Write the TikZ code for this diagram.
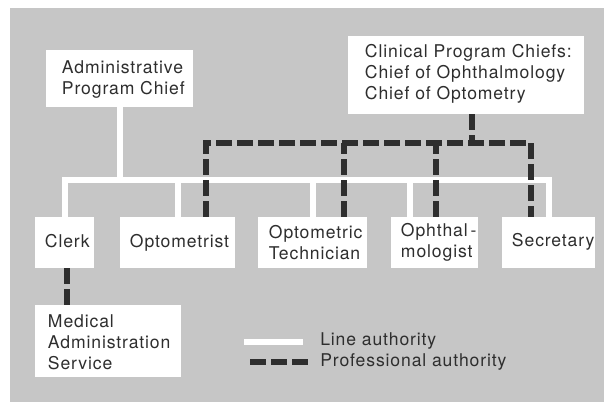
\documentclass[tikz,border=0pt]{standalone}
\usepackage{fontspec}
\setmainfont[LetterSpace=5]{TeX Gyre Heros}
\usetikzlibrary{calc}
\definecolor{bggray}{HTML}{C6C6C6}
\definecolor{ink}{HTML}{2E2E2E}
\tikzset{
  unit/.style={fill=white, inner sep=0pt},
  caption/.style={anchor=west, align=left, inner sep=0pt, text=ink,
    font=\fontsize{12.5}{15}\selectfont},
  lineauth/.style={draw=white, line width=0.15cm, line cap=rect},
  profauth/.style={draw=ink, line width=0.15cm, dash pattern=on 0.4cm off 0.125cm}
}
\begin{document}
\begin{tikzpicture}[x=0.025cm,y=-0.025cm]
    \useasboundingbox (0,0) rectangle (604,402);
    \fill[bggray] (10,8) rectangle (604,402);
    \coordinate (bus) at (0,180);
    \coordinate (dbus) at (0,143);
    \node[unit, minimum width=3.675cm, minimum height=1.425cm] (admin) at (119.5,78.5) {};
    \node[unit, minimum width=5.9cm, minimum height=1.95cm] (clinical) at (466,75) {};
    \node[unit, minimum width=1.475cm, minimum height=1.275cm] (clerk) at (64.5,242.5) {};
    \node[unit, minimum width=2.875cm, minimum height=1.275cm] (optometrist) at (177.5,242.5) {};
    \node[unit, minimum width=2.725cm, minimum height=1.275cm] (technician) at (312.5,242.5) {};
    \node[unit, minimum width=2.175cm, minimum height=1.275cm] (ophthal) at (434.5,242.5) {};
    \node[unit, minimum width=2.325cm, minimum height=1.275cm] (secretary) at (548.5,242.5) {};
    \node[unit, minimum width=3.65cm, minimum height=1.8cm] (mas) at (108,341) {};
    \node[caption] (admin-t) at ($(admin.west)+(16,1)$) {Administrative\\Program Chief};
    \node[caption] (clinical-t) at ($(clinical.west)+(17,-1)$) {Clinical Program Chiefs:\\Chief of Ophthalmology\\Chief of Optometry};
    \node[caption] (clerk-t) at ($(clerk.west)+(10,-1)$) {Clerk};
    \node[caption] (optometrist-t) at ($(optometrist.west)+(10,0)$) {Optometrist};
    \node[caption] (technician-t) at ($(technician.west)+(11,0)$) {Optometric\\Technician};
    \node[caption] (ophthal-t) at ($(ophthal.west)+(10,0)$) {Ophthal\,-\\mologist};
    \node[caption] (secretary-t) at ($(secretary.west)+(10,-1)$) {Secretary};
    \node[caption] (mas-t) at ($(mas.west)+(13,1)$) {Medical\\Administration\\Service};
    \coordinate (w3) at ($(ophthal.north west)+(19.5,0)$);
    \draw[lineauth] (admin.south) -- (admin.south |- bus);
    \draw[lineauth] (clerk.north) -- (clerk.north |- bus) -- (secretary.north |- bus) -- (secretary.north);
    \draw[lineauth] (optometrist.north) -- (optometrist.north |- bus);
    \draw[lineauth] (technician.north) -- (technician.north |- bus);
    \draw[lineauth] (w3) -- (w3 |- bus);
    \coordinate (d0) at ($(clinical.south)+(6,0)$);
    \coordinate (d1) at ($(optometrist.north)+(28.5,0)$);
    \coordinate (d2) at ($(technician.north)+(31.5,0)$);
    \coordinate (d3) at ($(ophthal.north)+(1.5,0)$);
    \coordinate (d4) at ($(secretary.north)+(-17.5,0)$);
    \coordinate (d5) at ($(clerk.south)+(2.5,0)$);
    \draw[profauth] (d1) -- (d1 |- dbus) -- (d4 |- dbus) -- (d4);
    \draw[profauth] (d2) -- (d2 |- dbus);
    \draw[profauth] (d3) -- (d3 |- dbus);
    \draw[profauth] (d0) -- (d0 |- dbus);
    \draw[profauth] (d5) -- (d5 |- mas.north);
    \node[caption] (linekey) at (320,341) {Line authority};
    \node[caption] (profkey) at (320,362) {Professional authority};
    \coordinate (la) at (247,341.5);
    \coordinate (pa) at (250,362);
    \draw[lineauth] (la) -- ($(linekey.west)+(-20,0.5)$);
    \draw[profauth] (pa) -- ($(profkey.west)+(-12,0)$);
\end{tikzpicture}
\end{document}
